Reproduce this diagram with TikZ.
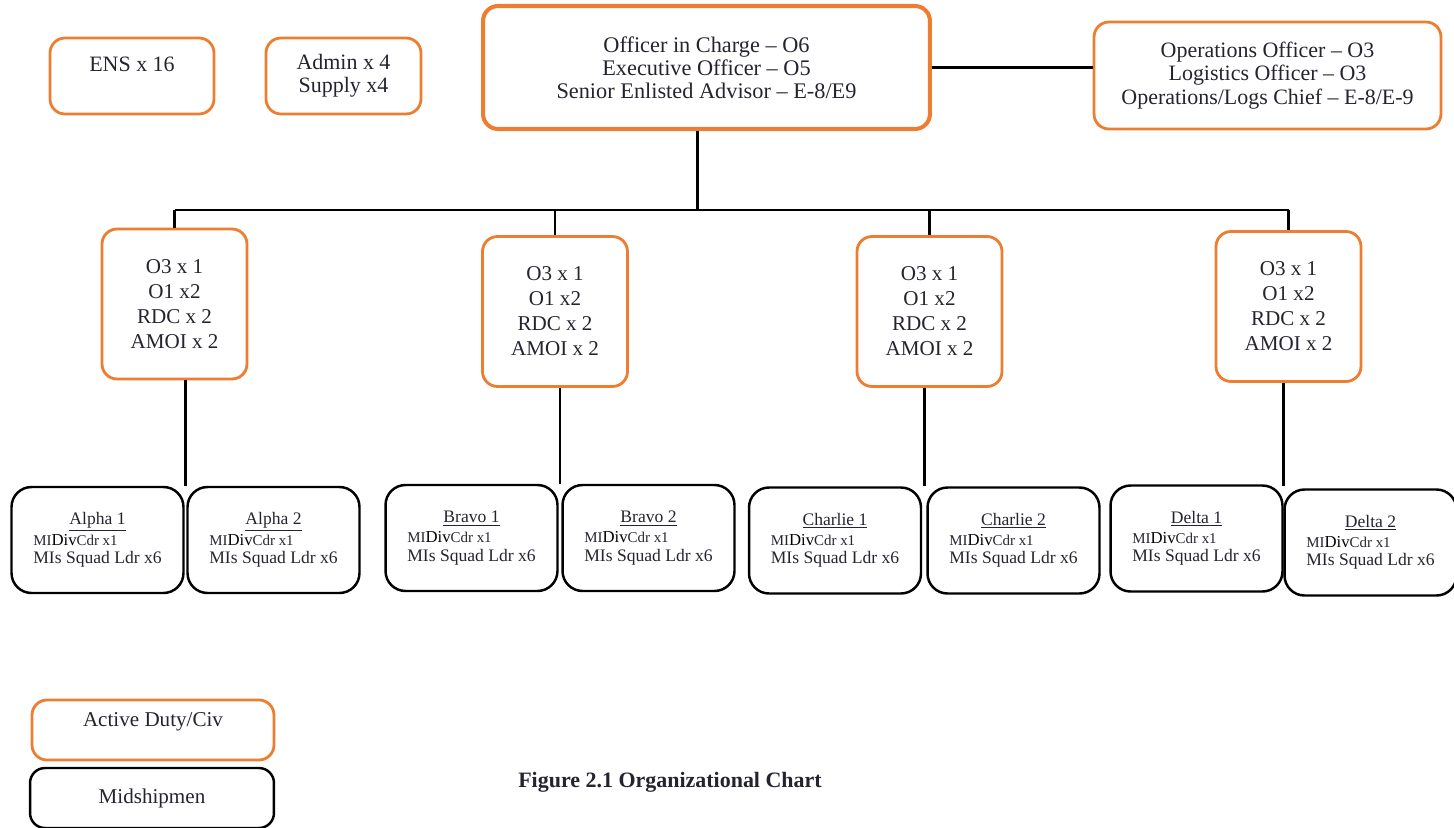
\documentclass[tikz,border=0pt]{standalone}
\usepackage{fontspec}
\setmainfont{Liberation Serif}
\usetikzlibrary{calc}
\definecolor{adorange}{HTML}{ED7D31}
\definecolor{inkgray}{HTML}{24242E}
\newcommand\squadtext[1]{\begin{tabular}{@{}l@{}}\multicolumn{1}{@{}c@{}}{\underline{#1}}\\[0.5pt]{\fontsize{8.5}{8}\selectfont MI}{\fontsize{9.5}{8}\selectfont\color{black}Div}{\fontsize{8.5}{8}\selectfont Cdr x1}\\[-0.5pt]MIs Squad Ldr x6\end{tabular}}
\tikzset{
  adbox/.style={draw=adorange, line width=1.6pt, rounded corners=0.3cm, align=center, text=inkgray, font=\fontsize{12.5}{13.2}\selectfont},
  mibox/.style={draw=black, line width=1.4pt, rounded corners=0.4cm, minimum width=3.44cm, minimum height=2.12cm, text=inkgray, font=\fontsize{10}{11}\selectfont},
  link/.style={draw=black, line width=1.7pt}
}
\begin{document}
\begin{tikzpicture}[x=0.02cm, y=-0.02cm]
\useasboundingbox (0,0) rectangle (1454,828);
\node[adbox, minimum width=3.28cm, minimum height=1.52cm] (ens) at (132,76) {ENS x 16\\\mbox{}};
\node[adbox, minimum width=3.1cm, minimum height=1.52cm] (admin) at (343.5,76) {Admin x 4\\Supply x4};
\node[adbox, line width=2.3pt, minimum width=8.94cm, minimum height=2.46cm, font=\fontsize{12.7}{13.2}\selectfont] (top) at (706.5,67.5) {Officer in Charge -- O6\\Executive Officer -- O5\\Senior Enlisted Advisor -- E-8/E9};
\node[adbox, minimum width=6.94cm, minimum height=2.14cm] (ops) at (1267.5,75.5) {Operations Officer -- O3\\Logistics Officer -- O3\\Operations/Logs Chief -- E-8/E-9};
\draw[link] (top.east) -- (top.east -| ops.west);
\foreach \n/\x/\y in {m1/174.5/304, m2/555/311.5, m3/929.5/311.5, m4/1288.5/306.5}
  \node[adbox, minimum width=2.9cm, minimum height=3cm, font=\fontsize{12}{14.2}\selectfont] (\n) at (\x,\y) {O3 x 1\\O1 x2\\RDC x 2\\AMOI x 2};
\foreach \n/\x/\y/\t in {a1/97.5/540/Alpha 1, a2/273.5/540/Alpha 2, b1/471.5/538/Bravo 1, b2/648.5/538/Bravo 2, c1/835/540.5/Charlie 1, c2/1013.5/540.5/Charlie 2, d1/1196.5/538.5/Delta 1, d2/1370.5/542.5/Delta 2}
  \node[mibox] (\n) at (\x,\y) {\squadtext{\t}};
\coordinate (bus) at (697,210);
\draw[link] (top.south -| bus) -- (bus);
\draw[link] (m1.north |- bus) -- (m4.north |- bus);
\foreach \m/\l/\r in {m1/a1/a2, m2/b1/b2, m3/c1/c2, m4/d1/d2} {
  \draw[link] (\m.north |- bus) -- (\m.north);
  \coordinate (j\m) at ($(\l.north east)!0.5!(\r.north west)$);
  \draw[link] (\m.south -| j\m) -- (j\m);
}
\node[adbox, minimum width=4.84cm, minimum height=1.2cm, font=\fontsize{12}{12}\selectfont] (active) at (153,730) {Active Duty/Civ\\\mbox{}};
\node[mibox, minimum width=4.88cm, minimum height=1.2cm, rounded corners=0.3cm, font=\fontsize{12}{13}\selectfont] (mid) at (152,798) {Midshipmen};
\node[font=\bfseries\fontsize{12.5}{14}\selectfont, text=inkgray] (caption) at (670,782) {Figure 2.1 Organizational Chart};
\end{tikzpicture}
\end{document}
